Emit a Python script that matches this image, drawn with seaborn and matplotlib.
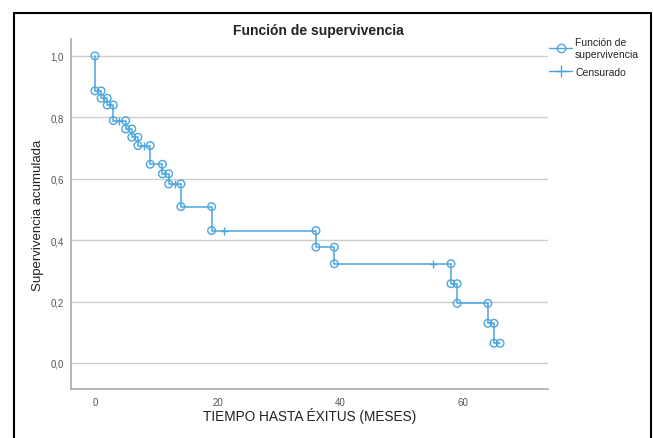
"""Kaplan-Meier style survival curve redrawn with seaborn."""
import matplotlib
matplotlib.use("Agg")
import matplotlib.pyplot as plt
from matplotlib.lines import Line2D
import numpy as np
import pandas as pd
import seaborn as sns

# event times (months) and survival after each step
event_times = [0, 1, 2, 3, 5, 6, 7, 9, 11, 12, 14, 19, 36, 39, 58, 59, 64, 65]
survival = [0.886, 0.862, 0.840, 0.789, 0.762, 0.735, 0.708, 0.647, 0.616,
            0.583, 0.509, 0.431, 0.377, 0.323, 0.258, 0.194, 0.129, 0.064]
last_time = 66
censored_times = [4, 8, 13, 21, 55]

y_ticks = [0.0, 0.2, 0.4, 0.6, 0.8, 1.0]
x_ticks = [0, 20, 40, 60]

BLUE = "#4aa6e0"

sns.set_style("white")
plt.rcParams["font.family"] = ["Liberation Sans", "DejaVu Sans"]

# step line data
step_df = pd.DataFrame({
    "t": [0] + event_times + [last_time],
    "s": [1.0] + survival + [survival[-1]],
})

# circles at both corners of every drop
prev = [1.0] + survival[:-1]
corner_df = pd.DataFrame({
    "t": event_times + event_times + [last_time],
    "s": prev + survival + [survival[-1]],
})


def surv_at(t):
    """Survival value of the step curve at time t."""
    s = 1.0
    for et, sv in zip(event_times, survival):
        if et <= t:
            s = sv
    return s


cens_df = pd.DataFrame({"t": censored_times,
                        "s": [surv_at(t) for t in censored_times]})

fig = plt.figure(figsize=(6.53, 4.39), dpi=100)
ax = fig.add_axes([71 / 653, 1 - 390 / 439, 477 / 653, 350 / 439])

sns.lineplot(data=step_df, x="t", y="s", estimator=None, sort=False,
             drawstyle="steps-post", color=BLUE, linewidth=1.1, ax=ax)
sns.scatterplot(data=corner_df, x="t", y="s", marker="o", s=30,
                facecolor="none", edgecolor=BLUE, linewidth=1.0, ax=ax,
                zorder=3)
sns.scatterplot(data=cens_df, x="t", y="s", marker="+", s=40,
                color=BLUE, linewidth=1.0, ax=ax, zorder=3)

ax.set_xlim(-3.9, 73.8)
ax.set_ylim(-0.085, 1.055)
ax.set_yticks(y_ticks)
ax.set_yticklabels([f"{v:.1f}".replace(".", ",") for v in y_ticks])
ax.set_xticks(x_ticks)
ax.set_xticklabels([str(v) for v in x_ticks])
ax.yaxis.grid(True, color="#cccccc", linewidth=1.0)
ax.set_axisbelow(True)
ax.tick_params(axis="y", length=3, color="#bbbbbb", labelsize=7,
               labelcolor="#555555", pad=2)
ax.tick_params(axis="x", length=0, labelsize=7, labelcolor="#555555",
               pad=6)
for side in ["top", "right"]:
    ax.spines[side].set_visible(False)
for side in ["left", "bottom"]:
    ax.spines[side].set_color("#aaaaaa")
    ax.spines[side].set_linewidth(1.2)

ax.set_xlabel("TIEMPO HASTA ÉXITUS (MESES)", fontsize=9.8, color="#222222",
              labelpad=0)
ax.set_ylabel("Supervivencia acumulada", fontsize=9.5, color="#222222",
              labelpad=5)
fig.text(318 / 653, 1 - 31 / 439, "Función de supervivencia",
         ha="center", va="center", fontsize=10, fontweight="bold",
         color="#222222")

handles = [
    Line2D([], [], color=BLUE, marker="o", markerfacecolor="none",
           markersize=6, linewidth=1.0),
    Line2D([], [], color=BLUE, marker="+", markersize=9, linewidth=1.0),
]
fig.legend(handles, ["Función de\nsupervivencia", "Censurado"],
           loc="upper left", bbox_to_anchor=(545 / 653, 1 - 34 / 439),
           frameon=False, fontsize=7.5, handlelength=2.2, handletextpad=0.3,
           labelspacing=0.8, borderaxespad=0)

# outer black frame (left, top, right)
for xs, ys in [((14, 14), (0, 425)), ((14, 651), (425, 425)),
               ((651, 651), (0, 425))]:
    fig.add_artist(Line2D([x / 653 for x in xs], [y / 439 for y in ys],
                          color="black", linewidth=1.5,
                          transform=fig.transFigure))

fig.savefig("out.png", dpi=100)
